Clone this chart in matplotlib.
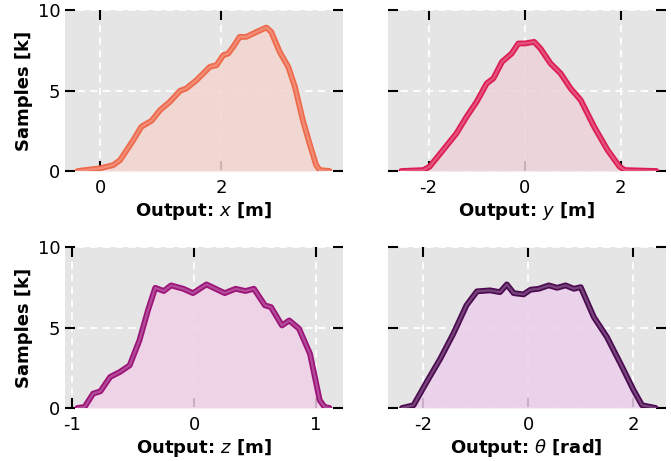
import numpy as np
import matplotlib
matplotlib.use("Agg")
import matplotlib.pyplot as plt
from matplotlib.colors import to_rgb

# values in thousands of samples
x_pos = [-0.37, 0.0, 0.22, 0.33, 0.44, 0.55, 0.68, 0.85, 0.99, 1.15, 1.32, 1.42, 1.59,
         1.81, 1.92, 2.03, 2.11, 2.19, 2.30, 2.41, 2.58, 2.74, 2.82, 2.96, 3.10, 3.21,
         3.34, 3.45, 3.56, 3.62, 3.78]
x_cnt = [0.0, 0.17, 0.37, 0.68, 1.3, 1.93, 2.75, 3.13, 3.79, 4.3, 4.99, 5.13, 5.65,
         6.48, 6.58, 7.2, 7.3, 7.7, 8.34, 8.34, 8.65, 8.92, 8.65, 7.4, 6.48, 5.24,
         3.17, 1.72, 0.37, 0.06, 0.0]

y_pos = [-2.57, -2.11, -1.98, -1.70, -1.42, -1.21, -1.0, -0.79, -0.65, -0.47, -0.27,
         -0.13, 0.01, 0.20, 0.33, 0.54, 0.75, 0.96, 1.17, 1.45, 1.73, 1.98, 2.09, 2.75]
y_cnt = [0.0, 0.06, 0.27, 1.3, 2.34, 3.37, 4.3, 5.44, 5.76, 6.79, 7.3,
         7.93, 7.93, 8.03, 7.62, 6.69, 6.07, 5.13, 4.41, 2.75, 1.3, 0.27, 0.06, 0.0]

z_pos = [-0.96, -0.90, -0.83, -0.77, -0.69, -0.61, -0.53, -0.45, -0.38, -0.32, -0.25,
         -0.19, -0.09, -0.01, 0.10, 0.25, 0.34, 0.42, 0.49, 0.58, 0.63, 0.72, 0.78,
         0.86, 0.95, 1.03, 1.07, 1.11]
z_cnt = [0.0, 0.06, 0.89, 1.04, 1.93, 2.24, 2.65, 4.2, 6.07, 7.47, 7.27,
         7.62, 7.41, 7.14, 7.68, 7.14, 7.41, 7.27, 7.41, 6.38, 6.27, 5.13, 5.44,
         4.93, 3.37, 0.48, 0.06, 0.0]

t_pos = [-2.41, -2.19, -1.94, -1.68, -1.43, -1.18, -0.98, -0.73, -0.54, -0.41, -0.28,
         -0.09, 0.04, 0.20, 0.39, 0.55, 0.71, 0.87, 1.0, 1.25, 1.50, 1.76, 2.01, 2.17, 2.43]
t_cnt = [0.0, 0.17, 1.61, 3.06, 4.62, 6.38, 7.25, 7.31, 7.2, 7.68, 7.14,
         7.06, 7.35, 7.41, 7.62, 7.47, 7.62, 7.41, 7.51, 5.65, 4.41, 2.75, 1.1, 0.17, 0.0]

labels = ["Output: $x$ [m]", "Output: $y$ [m]", "Output: $z$ [m]", r"Output: $\theta$ [rad]"]
line_colors = ["#ee6a4c", "#dc1e55", "#9c1479", "#4d0b52"]
fill_colors = ["#f3d5cf", "#eed2da", "#efd0e6", "#ebd0ec"]
x_ticks = [[0, 2], [-2, 0, 2], [-1, 0, 1], [-2, 0, 2]]
x_lims = [(-0.575, 4.0), (-2.85, 2.94), (-1.06, 1.22), (-2.68, 2.62)]

series = [(x_pos, x_cnt), (y_pos, y_cnt), (z_pos, z_cnt), (t_pos, t_cnt)]

plt.rcParams['font.size'] = 13
plt.rcParams['axes.unicode_minus'] = False

fig = plt.figure(figsize=(6.71, 4.61), dpi=100)
boxes = [[0.097, 0.629, 0.414, 0.349], [0.578, 0.629, 0.414, 0.349],
         [0.097, 0.115, 0.414, 0.349], [0.578, 0.115, 0.414, 0.349]]

for i, (pos, cnt) in enumerate(series):
    ax = fig.add_axes(boxes[i])
    ax.set_facecolor("#e5e5e5")
    for s in ax.spines.values():
        s.set_visible(False)
    ax.fill_between(pos, 0, cnt, color=fill_colors[i], alpha=0.85, lw=0, zorder=2)
    c = np.array(to_rgb(line_colors[i]))
    light = c + (1 - c) * 0.3
    ax.plot(pos, cnt, color=c, lw=4.2, solid_capstyle='round', solid_joinstyle='round', zorder=3)
    ax.plot(pos, cnt, color=light, lw=1.6, alpha=0.8, solid_capstyle='round',
            solid_joinstyle='round', zorder=4)
    ax.set_xlim(*x_lims[i])
    ax.set_ylim(0, 10)
    ax.set_xticks(x_ticks[i])
    ax.set_yticks([0, 5, 10])
    ax.grid(True, color="white", ls=(0, (4, 3)), lw=1.3, zorder=1)
    ax.set_axisbelow(True)
    ax.tick_params(direction='in', length=7, width=1.5, top=True, right=True,
                   colors='black', labelsize=13)
    ax.tick_params(axis='x', pad=6)
    ax.set_xlabel(labels[i], fontweight='bold', fontsize=13, labelpad=2)
    if i % 2 == 0:
        ax.set_ylabel("Samples [k]", fontweight='bold', fontsize=13, labelpad=3)
    else:
        ax.set_yticklabels([])

fig.savefig("out.png", dpi=100)
